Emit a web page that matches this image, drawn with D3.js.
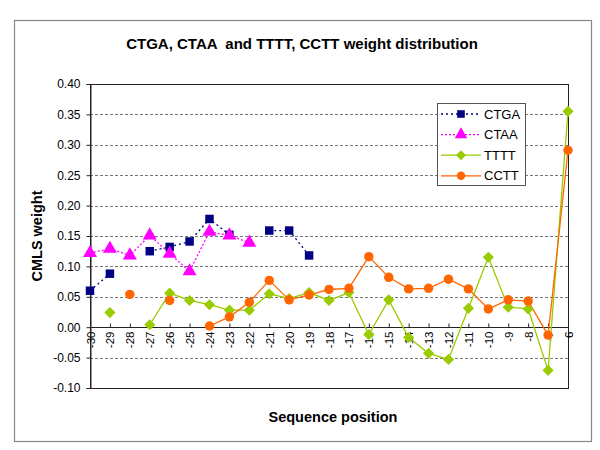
<!DOCTYPE html>
<html><head><meta charset="utf-8">
<script src="https://cdn.jsdelivr.net/npm/d3@7"></script>
<style>html,body{margin:0;padding:0;background:#fff;}svg{display:block;font-family:Arial,"Liberation Sans",sans-serif;}</style>
</head><body>
<svg id="chart" width="600" height="450"></svg>
<script>
const positions = ["-30","-29","-28","-27","-26","-25","-24","-23","-22","-21","-20","-19","-18","-17","-16","-15","-14","-13","-12","-11","-10","-9","-8","-7","6"];
const ctga = [0.060,0.088,null,0.125,0.132,0.141,0.178,0.152,null,0.159,0.159,0.118,null,null,null,null,null,null,null,null,null,null,null,null,null];
const ctaa = [0.122,0.129,0.118,0.151,0.121,0.092,0.157,0.151,0.139,null,null,null,null,null,null,null,null,null,null,null,null,null,null,null,null];
const tttt = [null,0.024,null,0.004,0.056,0.044,0.037,0.028,0.028,0.055,0.047,0.057,0.044,0.057,-0.012,0.045,-0.017,-0.043,-0.053,0.031,0.115,0.033,0.030,-0.071,0.355];
const cctt = [null,null,0.054,null,0.044,null,0.002,0.017,0.041,0.077,0.045,0.053,0.062,0.064,0.116,0.082,0.063,0.064,0.079,0.063,0.030,0.045,0.043,-0.013,0.291];
const yTicks = [-0.10,-0.05,0.00,0.05,0.10,0.15,0.20,0.25,0.30,0.35,0.40];
const seriesNames = ["CTGA","CTAA","TTTT","CCTT"];

const series = [
  {name:seriesNames[0], values:ctga, color:"#000080", dash:"2,3", symbol:d3.symbolSquare, size:72, rot:0},
  {name:seriesNames[1], values:ctaa, color:"#FF00FF", dash:"2,2", symbol:d3.symbolTriangle, size:85, rot:0},
  {name:seriesNames[2], values:tttt, color:"#99CC00", dash:null, symbol:d3.symbolSquare, size:62, rot:45},
  {name:seriesNames[3], values:cctt, color:"#FF6600", dash:null, symbol:d3.symbolCircle, size:70, rot:0}
];

const svg = d3.select("#chart");
const L = 90, R = 568, T = 84, B = 388;

svg.append("rect").attr("x",14.5).attr("y",20.5).attr("width",577).attr("height",421)
  .attr("fill","#fff").attr("stroke","#888").attr("stroke-width",1.2);

const x = d3.scalePoint().domain(positions).range([L,R]);
const y = d3.scaleLinear().domain([-0.10,0.40]).range([B,T]);

svg.append("g").selectAll("line").data(yTicks.filter(v=>v!==0 && v!==0.40 && v!==-0.10)).join("line")
  .attr("x1",L).attr("x2",R).attr("y1",d=>Math.round(y(d))+0.5).attr("y2",d=>Math.round(y(d))+0.5)
  .attr("stroke","#777").attr("stroke-dasharray","3,2").attr("stroke-width",1);

svg.append("rect").attr("x",L+0.5).attr("y",T+0.5).attr("width",R-L).attr("height",B-T)
  .attr("fill","none").attr("stroke","#222").attr("stroke-width",1);

const yAxis = d3.axisLeft(y).tickValues(yTicks).tickFormat(d3.format(".2f")).tickSize(4).tickPadding(6);
const gy = svg.append("g").attr("transform",`translate(${L+0.5},0)`).call(yAxis);
gy.select(".domain").attr("stroke","#222");
gy.selectAll(".tick line").attr("stroke","#222");
gy.selectAll("text").attr("font-size","12px").attr("fill","#000").attr("font-family","Arial, 'Liberation Sans', sans-serif")
  .text(d => d<0 ? "-"+Math.abs(d).toFixed(2) : d.toFixed(2));

const xAxis = d3.axisBottom(x).tickSize(0).tickPadding(0);
const y0 = Math.round(y(0))+0.5;
const gx = svg.append("g").attr("transform",`translate(0,${y0})`).call(xAxis);
gx.select(".domain").attr("stroke","#222").attr("d",`M${L},0H${R}`);
gx.selectAll(".tick").append("line").attr("y1",-4).attr("y2",0).attr("stroke","#222");
gx.selectAll(".tick text").attr("font-size","11.5px").attr("fill","#000")
  .attr("font-family","Arial, 'Liberation Sans', sans-serif")
  .attr("text-anchor","end").attr("dy","0.35em")
  .attr("transform","translate(0,4) rotate(-90)");

const line = d3.line().defined(d=>d.v!==null).x(d=>x(d.p)).y(d=>y(d.v));
series.forEach(s=>{
  const data = positions.map((p,i)=>({p, v:s.values[i]}));
  svg.append("path").datum(data).attr("d",line).attr("fill","none")
    .attr("stroke",s.color).attr("stroke-width",1.3)
    .attr("stroke-dasharray",s.dash);
});
series.forEach(s=>{
  const data = positions.map((p,i)=>({p, v:s.values[i]})).filter(d=>d.v!==null);
  svg.append("g").selectAll("path").data(data).join("path")
    .attr("d",d3.symbol().type(s.symbol).size(s.size))
    .attr("transform",d=>`translate(${x(d.p)},${y(d.v)}) rotate(${s.rot})`)
    .attr("fill",s.color);
});

const lg = svg.append("g");
lg.append("rect").attr("x",437.5).attr("y",103.5).attr("width",88).attr("height",82)
  .attr("fill","#fff").attr("stroke","#555").attr("stroke-width",1);
series.forEach((s,i)=>{
  const ly = 114 + i*20.6;
  lg.append("line").attr("x1",441).attr("x2",481).attr("y1",ly).attr("y2",ly)
    .attr("stroke",s.color).attr("stroke-width",1.3).attr("stroke-dasharray",s.dash);
  lg.append("path").attr("d",d3.symbol().type(s.symbol).size(s.size*0.8))
    .attr("transform",`translate(461,${ly}) rotate(${s.rot})`).attr("fill",s.color);
  lg.append("text").attr("x",484).attr("y",ly).attr("dy","0.36em")
    .attr("font-size","13px").attr("fill","#000").text(s.name);
});

svg.append("text").attr("x",302).attr("y",49).attr("text-anchor","middle")
  .attr("font-size","15px").attr("font-weight","bold").attr("fill","#000")
  .style("white-space","pre")
  .text("CTGA, CTAA  and TTTT, CCTT weight distribution");
svg.append("text").attr("transform","translate(42,236) rotate(-90)").attr("text-anchor","middle")
  .attr("font-size","14.5px").attr("font-weight","bold").attr("fill","#000").text("CMLS weight");
svg.append("text").attr("x",333).attr("y",422).attr("text-anchor","middle")
  .attr("font-size","14.5px").attr("font-weight","bold").attr("fill","#000").text("Sequence position");
</script>
</body></html>
